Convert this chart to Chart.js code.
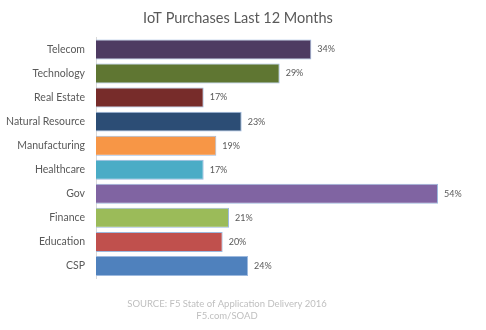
<!DOCTYPE html>
<html>
<head>
<meta charset="utf-8">
<script src="https://cdn.jsdelivr.net/npm/chart.js@4/dist/chart.umd.min.js"></script>
<style>
  html, body { margin: 0; padding: 0; background: #fff; }
  #wrap { width: 486px; height: 330px; position: relative; }
</style>
</head>
<body>
<div id="wrap"><canvas id="c" width="486" height="330"></canvas></div>
<script>
// IoT purchases by industry, share of respondents (%)
const industries = ['Telecom', 'Technology', 'Real Estate', 'Natural Resource', 'Manufacturing',
                    'Healthcare', 'Gov', 'Finance', 'Education', 'CSP'];
const purchasePct = [34, 29, 17, 23, 19, 17, 54, 21, 20, 24];
const barColors = ['#4e3b62', '#5f7632', '#772c2a', '#2c4d75', '#f79646',
                   '#4bacc6', '#8064a2', '#9bbb59', '#c0504d', '#4f81bd'];
const sourceLines = ['SOURCE: F5 State of Application Delivery 2016', 'F5.com/SOAD'];

const FONT = 'Lato, "Open Sans", sans-serif';

// Percent labels just past the end of each bar
const valueLabels = {
  id: 'valueLabels',
  afterDatasetsDraw(chart) {
    const { ctx } = chart;
    const meta = chart.getDatasetMeta(0);
    ctx.save();
    ctx.font = '9px ' + FONT;
    ctx.fillStyle = '#595959';
    ctx.textAlign = 'left';
    ctx.textBaseline = 'middle';
    meta.data.forEach((bar, i) => {
      ctx.fillText(purchasePct[i] + '%', bar.x + 6, bar.y);
    });
    ctx.restore();
  }
};

// Source note under the plot
const sourceNote = {
  id: 'sourceNote',
  afterDraw(chart) {
    const { ctx } = chart;
    ctx.save();
    ctx.font = '9.5px ' + FONT;
    ctx.fillStyle = '#bfbfbf';
    ctx.textAlign = 'center';
    ctx.textBaseline = 'middle';
    const cx = 227;
    sourceLines.forEach((t, i) => ctx.fillText(t, cx, chart.chartArea.bottom + 26 + i * 12));
    ctx.restore();
  }
};

new Chart(document.getElementById('c'), {
  type: 'bar',
  data: {
    labels: industries,
    datasets: [{
      data: purchasePct,
      backgroundColor: barColors,
      borderColor: '#9db9de',
      borderWidth: 1,
      borderSkipped: 'left',
      categoryPercentage: 0.83,
      barPercentage: 1
    }]
  },
  options: {
    indexAxis: 'y',
    responsive: false,
    animation: false,
    devicePixelRatio: 1,
    layout: { padding: { left: 0, right: 10, top: 0, bottom: 52 } },
    plugins: {
      legend: { display: false },
      tooltip: { enabled: false },
      title: {
        display: true,
        text: 'IoT Purchases Last 12 Months',
        color: '#595959',
        font: { family: FONT, size: 14.5, weight: 'normal' },
        padding: { top: 10, bottom: 10 }
      }
    },
    scales: {
      x: { display: false, min: 0, max: 60 },
      y: {
        grid: { display: false, drawTicks: false },
        border: { display: true, color: '#d9d9d9', width: 1 },
        ticks: { color: '#595959', font: { family: FONT, size: 10.5 }, padding: 11 },
        afterFit(s) { s.width = 96; }
      }
    }
  },
  plugins: [valueLabels, sourceNote]
});
</script>
</body>
</html>
